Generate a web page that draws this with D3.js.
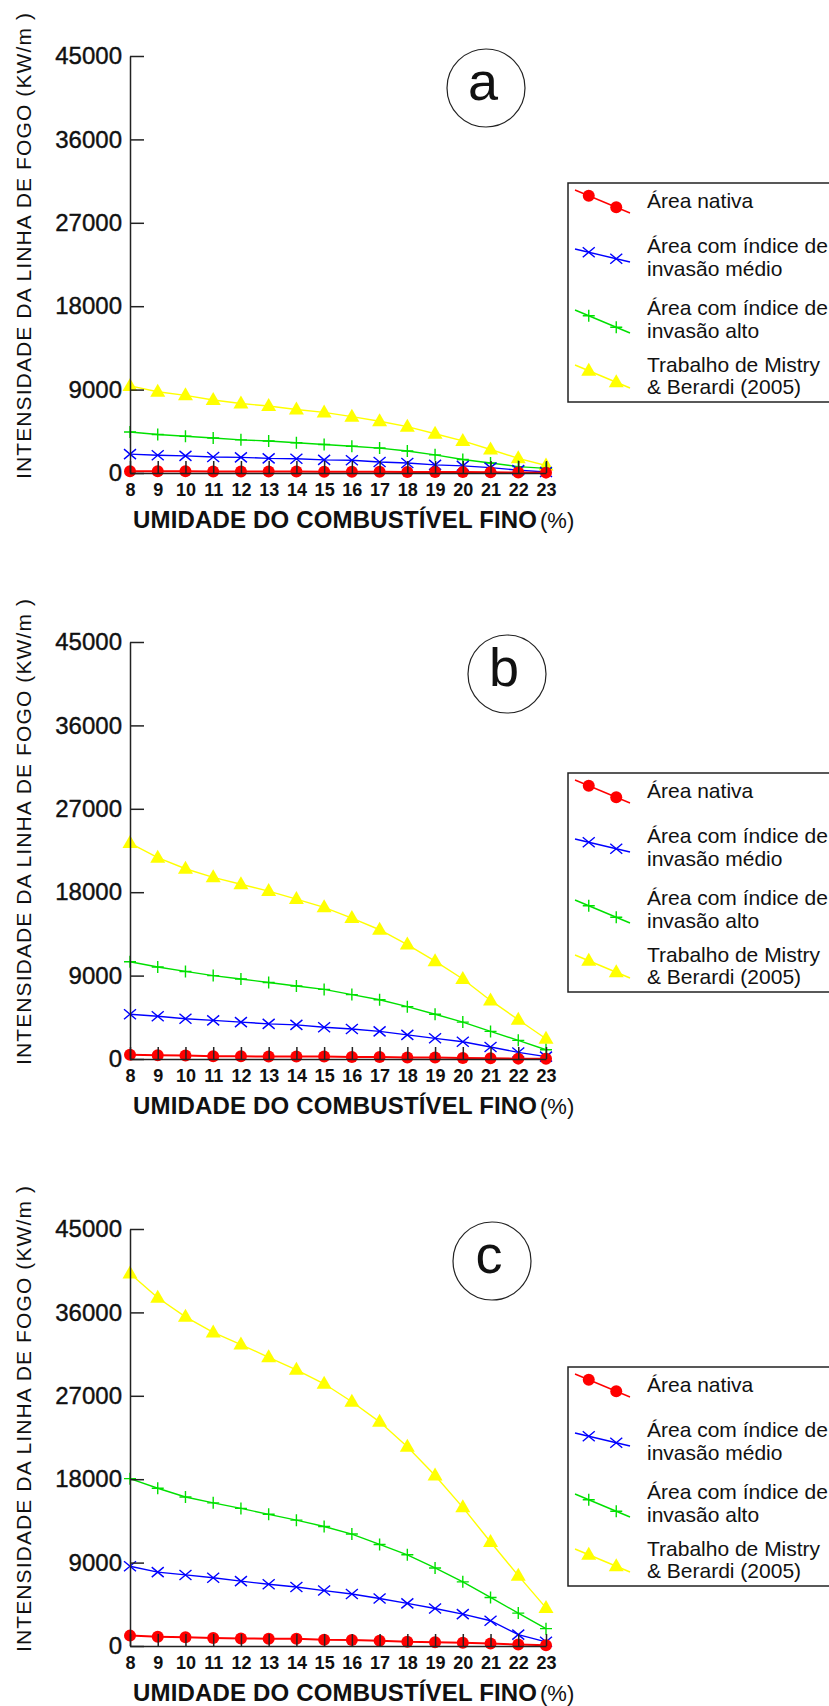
<!DOCTYPE html>
<meta charset="utf-8">
<style>
  body { margin: 0; background: #fff; }
  text { font-family: "Liberation Sans", Arial, sans-serif; fill: #111; }
</style>
<body>
<script src="https://cdn.jsdelivr.net/npm/d3@7"></script>
<script>
// moisture of fine fuel (%)
var umidade = [8, 9, 10, 11, 12, 13, 14, 15, 16, 17, 18, 19, 20, 21, 22, 23];
var yTicks = [0, 9000, 18000, 27000, 36000, 45000];
var panelLabels = ["a", "b", "c"];
var seriesNames = [
  ["Área nativa"],
  ["Área com índice de", "invasão médio"],
  ["Área com índice de", "invasão alto"],
  ["Trabalho de Mistry", "& Berardi (2005)"]
];

// panel a
var nativaA = [200, 190, 180, 170, 165, 160, 150, 145, 140, 130, 120, 110, 95, 80, 60, 40];
var medioA = [2040, 1920, 1850, 1730, 1690, 1580, 1540, 1420, 1380, 1190, 1080, 880, 770, 580, 310, 100];
var altoA = [4420, 4150, 3960, 3770, 3580, 3460, 3270, 3080, 2880, 2690, 2380, 1960, 1460, 1080, 690, 500];
var mistryA = [9400, 8770, 8380, 7880, 7500, 7230, 6850, 6540, 6080, 5580, 5000, 4230, 3460, 2540, 1580, 810];
// panel b
var nativaB = [450, 410, 370, 300, 300, 260, 260, 260, 220, 220, 150, 150, 110, 75, 40, 20];
var medioB = [4830, 4610, 4350, 4170, 3980, 3790, 3680, 3420, 3240, 2980, 2600, 2230, 1860, 1300, 710, 260];
var altoB = [10490, 9930, 9450, 9000, 8630, 8260, 7880, 7510, 6950, 6390, 5650, 4830, 3980, 2980, 2010, 1000];
var mistryB = [23300, 21720, 20530, 19600, 18860, 18120, 17260, 16370, 15210, 13950, 12350, 10560, 8630, 6320, 4240, 2190];
// panel c
var nativaC = [1120, 1010, 935, 860, 820, 785, 785, 670, 640, 560, 450, 410, 340, 260, 150, 75];
var medioC = [8600, 7970, 7670, 7370, 7000, 6660, 6360, 5980, 5610, 5120, 4600, 4040, 3440, 2730, 1230, 450];
var altoC = [18060, 17020, 16080, 15450, 14850, 14210, 13580, 12900, 12080, 10960, 9840, 8420, 6920, 5240, 3550, 1870];
var mistryC = [40200, 37580, 35520, 33840, 32530, 31150, 29800, 28300, 26360, 24190, 21500, 18400, 14960, 11220, 7590, 4110];

var width = 829, height = 1706;
var colors = ["#ff0000", "#0000ff", "#00e000", "#ffff00"];
var symbols = ["circle", "x", "plus", "triangle"];

var svg = d3.select("body").append("svg")
  .attr("width", width)
  .attr("height", height);

var x = d3.scaleLinear().domain([8, 23]).range([130, 546]);
var y = d3.scaleLinear().domain([0, 45000]).range([473, 56]);

function marker(g, kind, color) {
  if (kind == "circle") {
    g.append("circle").attr("r", 6).attr("fill", color);
  } else if (kind == "x") {
    g.append("path").attr("d", "M-6,-5L6,5M-6,5L6,-5")
      .attr("stroke", color).attr("stroke-width", 1.4).attr("fill", "none");
  } else if (kind == "plus") {
    g.append("path").attr("d", "M-6,0L6,0M0,-6L0,6")
      .attr("stroke", color).attr("stroke-width", 1.4).attr("fill", "none");
  } else {
    g.append("path").attr("d", "M0,-8L7.5,5L-7.5,5Z").attr("fill", color);
  }
}

function drawPanel(i, offset, series, circlePos, legendShift) {
  var g = svg.append("g").attr("transform", "translate(0," + offset + ")");

  // series: draw yellow first, red last
  [3, 2, 1, 0].forEach(function(s) {
    var vals = series[s];
    var line = d3.line()
      .x(function(d, k) { return x(umidade[k]) })
      .y(function(d) { return y(d) });
    g.append("path")
      .datum(vals)
      .attr("d", line)
      .attr("fill", "none")
      .attr("stroke", colors[s])
      .attr("stroke-width", s == 0 ? 2 : 1.4);
    g.selectAll(null)
      .data(vals)
      .enter().append("g")
      .attr("transform", function(d, k) { return "translate(" + x(umidade[k]) + "," + y(d) + ")" })
      .each(function() { marker(d3.select(this), symbols[s], colors[s]) });
  });

  // axes on top
  var xAxis = g.append("g")
    .attr("transform", "translate(0," + y(0) + ")")
    .call(d3.axisBottom(x).tickValues(umidade).tickFormat(d3.format("d"))
      .tickSizeInner(-12).tickSizeOuter(0).tickPadding(10));
  xAxis.selectAll("text")
    .style("font-size", "18px").style("font-weight", "bold")
    .style("font-family", "Liberation Sans, Arial, sans-serif").attr("fill", "#111");

  var yAxis = g.append("g")
    .attr("transform", "translate(" + x(8) + ",0)")
    .call(d3.axisLeft(y).tickValues(yTicks).tickFormat(d3.format("d"))
      .tickSizeInner(-14).tickSizeOuter(0).tickPadding(8));
  yAxis.selectAll("text")
    .style("font-size", "24px")
    .style("font-family", "Liberation Sans, Arial, sans-serif")
    .attr("fill", "#111").attr("stroke", "#111").attr("stroke-width", 0.4);

  [xAxis, yAxis].forEach(function(a) {
    a.selectAll("path, line").attr("stroke", "#222").attr("stroke-width", 1.5);
  });

  // y title
  g.append("text")
    .attr("transform", "translate(31,246) rotate(-90)")
    .attr("text-anchor", "middle")
    .attr("textLength", 466)
    .attr("lengthAdjust", "spacing")
    .style("font-size", "21px")
    .text("INTENSIDADE DA LINHA DE FOGO (KW/m )");

  // x title
  g.append("text")
    .attr("x", 133).attr("y", 528)
    .attr("textLength", 404)
    .attr("lengthAdjust", "spacing")
    .style("font-size", "24px").style("font-weight", "bold")
    .text("UMIDADE DO COMBUSTÍVEL FINO");
  g.append("text")
    .attr("x", 540).attr("y", 528)
    .style("font-size", "22px")
    .text("(%)");

  // panel letter
  g.append("circle")
    .attr("cx", circlePos).attr("cy", 88).attr("r", 39)
    .attr("fill", "none").attr("stroke", "#222").attr("stroke-width", 1.2);
  g.append("text")
    .attr("x", circlePos - 3).attr("y", 100)
    .attr("text-anchor", "middle")
    .style("font-size", "54px")
    .text(panelLabels[i]);

  // legend
  var lg = g.append("g").attr("transform", "translate(0," + legendShift + ")");
  lg.append("rect")
    .attr("x", 568).attr("y", 183).attr("width", 300).attr("height", 219)
    .attr("fill", "#fff").attr("stroke", "#222").attr("stroke-width", 1.5);
  var sy = [190, 249, 310, 365], sdy = [23, 13, 23, 23];
  var baselines = [[208], [253, 276], [315, 338], [372, 394]];
  seriesNames.forEach(function(names, s) {
    lg.append("line")
      .attr("x1", 575).attr("y1", sy[s]).attr("x2", 630).attr("y2", sy[s] + sdy[s])
      .attr("stroke", colors[s]).attr("stroke-width", 1.4);
    [0.25, 0.75].forEach(function(t) {
      var m = lg.append("g")
        .attr("transform", "translate(" + (575 + 55 * t) + "," + (sy[s] + sdy[s] * t) + ")");
      marker(m, symbols[s], colors[s]);
    });
    names.forEach(function(n, j) {
      lg.append("text")
        .attr("x", 647).attr("y", baselines[s][j])
        .style("font-size", "21px")
        .text(n);
    });
  });
}

drawPanel(0, 0, [nativaA, medioA, altoA, mistryA], 486, 0);
drawPanel(1, 586, [nativaB, medioB, altoB, mistryB], 507, 4);
drawPanel(2, 1173, [nativaC, medioC, altoC, mistryC], 492, 11);
</script>
</body>
